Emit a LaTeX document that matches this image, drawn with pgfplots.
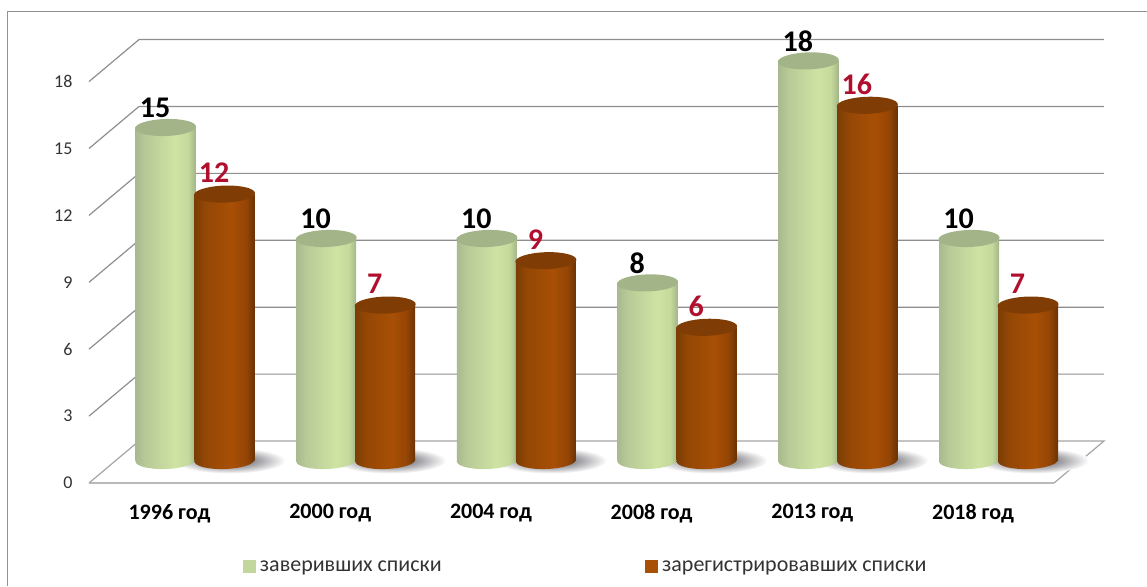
\documentclass[border=0pt]{standalone}
\usepackage{fontspec}
\setmainfont{Carlito}
\usepackage{pgfplots}
\pgfplotsset{compat=1.18}

\definecolor{capgreen}{HTML}{A3B588}
\definecolor{capbrown}{HTML}{7F3D05}
\definecolor{gridgray}{HTML}{8E8E8E}
\definecolor{labelred}{HTML}{B0102E}
\definecolor{legendgreen}{HTML}{C3D69B}
\definecolor{legendbrown}{HTML}{A85006}

\pgfdeclarehorizontalshading{greencyl}{100bp}{
  rgb(0bp)=(.66,.73,.56);
  rgb(25bp)=(.66,.73,.56);
  rgb(33bp)=(.72,.79,.59);
  rgb(58bp)=(.81,.89,.64);
  rgb(69bp)=(.77,.85,.61);
  rgb(75bp)=(.64,.71,.53);
  rgb(100bp)=(.64,.71,.53)}
\pgfdeclarehorizontalshading{browncyl}{100bp}{
  rgb(0bp)=(.48,.24,.02);
  rgb(25bp)=(.48,.24,.02);
  rgb(34bp)=(.58,.28,.02);
  rgb(56bp)=(.66,.31,.02);
  rgb(68bp)=(.58,.27,.02);
  rgb(75bp)=(.42,.20,.01);
  rgb(100bp)=(.42,.20,.01)}
\pgfdeclareradialshading{shadowfade}{\pgfpoint{0bp}{0bp}}{
  rgb(0bp)=(.56,.56,.58);
  rgb(11bp)=(.58,.58,.60);
  rgb(25bp)=(1,1,1);
  rgb(50bp)=(1,1,1)}

% cylinder ends and floor shadow, as plot marks
\pgfdeclareplotmark{topgreen}{%
  \pgfpathellipse{\pgfpointorigin}{\pgfqpoint{30.5pt}{1pt}}{\pgfqpoint{-0.3pt}{8.5pt}}%
  \pgfsetfillcolor{capgreen}\pgfusepathqfill}
\pgfdeclareplotmark{topbrown}{%
  \pgfpathellipse{\pgfpointorigin}{\pgfqpoint{30.5pt}{1pt}}{\pgfqpoint{-0.3pt}{8.5pt}}%
  \pgfsetfillcolor{capbrown}\pgfusepathqfill}
\pgfdeclareplotmark{basegreen}{%
  \pgfpathellipse{\pgfpointorigin}{\pgfqpoint{30pt}{1pt}}{\pgfqpoint{-0.3pt}{8.5pt}}%
  \pgfshadepath{greencyl}{0}\pgfusepath{discard}}
\pgfdeclareplotmark{basebrown}{%
  \pgfpathellipse{\pgfpointorigin}{\pgfqpoint{30pt}{1pt}}{\pgfqpoint{-0.3pt}{8.5pt}}%
  \pgfshadepath{browncyl}{0}\pgfusepath{discard}}
\pgfdeclareplotmark{floorshadow}{%
  \pgfpathellipse{\pgfqpoint{5pt}{0pt}}{\pgfqpoint{56pt}{0pt}}{\pgfqpoint{0pt}{13pt}}%
  \pgfshadepath{shadowfade}{0}\pgfusepath{discard}}

\pgfplotsset{
  cyl/.style={forget plot,ybar,bar width=0.3734,bar shift=0pt,draw=none,shade,nodes near coords},
  zav/.style={cyl,shading=greencyl,mark=topgreen,
    every node near coord/.append style={anchor=center,xshift=-10.5pt,yshift=20pt,
        font=\fontsize{30}{32}\selectfont\bfseries,text=black}},
  zar/.style={cyl,shading=browncyl,mark=topbrown,
    every node near coord/.append style={anchor=center,xshift=-10.5pt,yshift=21pt,
        font=\fontsize{30}{32}\selectfont\bfseries,text=labelred}},
}

\begin{document}
\begin{tikzpicture}[x=1pt,y=1pt]
\path[use as bounding box] (0,0) rectangle (1147,586);
\draw[gray!85,line width=1pt] (7.5,0) -- (7.5,574) -- (1147,574);

% floor, walls and axis labels
\begin{axis}[
    at={(89pt,103pt)}, anchor=south west,
    scale only axis, width=965pt, height=444pt,
    xmin=-0.5009, xmax=5.504, ymin=0, ymax=19.91,
    clip=false,
    axis y line*=left, axis x line*=bottom,
    y axis line style={draw=none},
    x axis line style={draw=gray!55,line width=1.6pt,-},
    xtick={0,1,2,3,4,5},
    xticklabels={1996 год,2000 год,2004 год,2008 год,2013 год,2018 год},
    ytick={0,3,6,9,12,15,18},
    tick style={draw=none},
    /pgf/number format/assume math mode=true,
    xticklabel style={font=\fontsize{22}{24}\selectfont\bfseries,text=black,yshift=-18pt},
    yticklabel style={font=\fontsize{18}{20}\selectfont,text=black!80,xshift=-13pt},
    unbounded coords=jump,
]
\addplot[draw=gridgray,line width=1.2pt] coordinates {
    (-0.5009,3) (-0.19,4.883) (5.815,4.883) (-0.5,nan)
    (-0.5009,6) (-0.19,7.883) (5.815,7.883) (-0.5,nan)
    (-0.5009,9) (-0.19,10.883) (5.815,10.883) (-0.5,nan)
    (-0.5009,12) (-0.19,13.883) (5.815,13.883) (-0.5,nan)
    (-0.5009,15) (-0.19,16.883) (5.815,16.883) (-0.5,nan)
    (-0.5009,18) (-0.19,19.883) (5.815,19.883)
};
\addplot[draw=gridgray!80,line width=1.2pt] coordinates {
    (-0.5009,0) (-0.19,1.883) (5.815,1.883) (5.504,0)
};
\end{axis}

% cylinders, on their own plane behind the front edge of the floor
% one plot per bar, so that each bar gets its own shading
\begin{axis}[
    at={(89pt,103pt)}, anchor=south west,
    scale only axis, width=965pt, height=444pt,
    xmin=-0.5009, xmax=5.504, ymin=-1.0135, ymax=18.986,
    clip=false, clip mode=individual, hide axis,
    /pgf/number format/assume math mode=true,
    legend style={at={(0.5145,0)},anchor=center,yshift=-84pt,draw=none,fill=none,
        legend columns=2,font=\fontsize{22}{24}\selectfont,text=black!80,
        /tikz/every even column/.append style={column sep=201pt}},
    legend image code/.code={\fill[#1] (0pt,-5.5pt) rectangle (12pt,7pt);\path (15pt,0pt);},
]
\addlegendimage{legendgreen}
\addlegendentry{заверивших списки}
\addlegendimage{legendbrown}
\addlegendentry{зарегистрировавших списки}

\addplot[forget plot,only marks,mark=floorshadow] coordinates {
    (0.3423,0) (1.3423,0) (2.3423,0) (3.3423,0) (4.3423,0) (5.3423,0)};
\addplot[forget plot,only marks,mark=basegreen] coordinates {
    (-0.0249,0) (0.9751,0) (1.9751,0) (2.9751,0) (3.9751,0) (4.9751,0)};
\addplot[zav] coordinates {(-0.0249,15)};
\addplot[zav] coordinates {(0.9751,10)};
\addplot[zav] coordinates {(1.9751,10)};
\addplot[zav] coordinates {(2.9751,8)};
\addplot[zav] coordinates {(3.9751,18)};
\addplot[zav] coordinates {(4.9751,10)};

\addplot[forget plot,only marks,mark=basebrown] coordinates {
    (0.3423,0) (1.3423,0) (2.3423,0) (3.3423,0) (4.3423,0) (5.3423,0)};
\addplot[zar] coordinates {(0.3423,12)};
\addplot[zar] coordinates {(1.3423,7)};
\addplot[zar] coordinates {(2.3423,9)};
\addplot[zar] coordinates {(3.3423,6)};
\addplot[zar] coordinates {(4.3423,16)};
\addplot[zar] coordinates {(5.3423,7)};
\end{axis}
\end{tikzpicture}
\end{document}
